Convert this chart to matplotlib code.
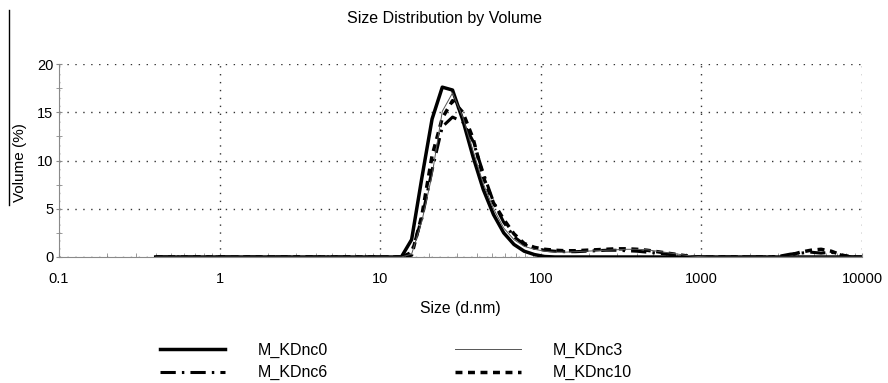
import matplotlib

matplotlib.use("Agg")
import matplotlib.pyplot as plt
from matplotlib.lines import Line2D

plt.rcParams["font.family"] = ["Liberation Sans", "DejaVu Sans"]

# ---------------------------------------------------------------- data
# Zetasizer size bins (d.nm)
sizes = [0.4, 0.4632, 0.5365, 0.6213, 0.7195, 0.8332, 0.9649, 1.117, 1.294,
         1.499, 1.736, 2.010, 2.328, 2.696, 3.122, 3.615, 4.187, 4.849,
         5.615, 6.503, 7.531, 8.721, 10.10, 11.70, 13.54, 15.69, 18.17,
         21.04, 24.36, 28.21, 32.67, 37.84, 43.82, 50.75, 58.77, 68.06,
         78.82, 91.28, 105.7, 122.4, 141.8, 164.2, 190.1, 220.2, 255.0,
         295.3, 342.0, 396.1, 458.7, 531.2, 615.1, 712.4, 825.0, 955.4,
         1106, 1281, 1484, 1718, 1990, 2305, 2669, 3091, 3580, 4145, 4801,
         5560, 6439, 7456, 8635, 10000]

# volume (%) per bin, bins 0.4 .. 11.70 are all zero
vol_nc0 = [0] * 24 + [0, 1.8, 8.2, 14.3, 17.6, 17.3, 14.2, 10.4, 7.0, 4.4,
                      2.5, 1.3, 0.6, 0.25, 0.05, 0, 0, 0, 0, 0, 0, 0, 0, 0,
                      0, 0, 0, 0, 0, 0, 0, 0, 0, 0, 0, 0, 0, 0, 0, 0, 0, 0,
                      0, 0, 0, 0]
vol_nc3 = [0] * 24 + [0, 0.3, 3.7, 8.5, 15.1, 17.0, 14.5, 11.0, 7.6, 5.0,
                      3.0, 1.8, 1.1, 0.8, 0.6, 0.5, 0.5, 0.55, 0.6, 0.65,
                      0.7, 0.75, 0.8, 0.8, 0.75, 0.6, 0.45, 0.3, 0.15, 0.05,
                      0, 0, 0, 0, 0, 0, 0, 0, 0, 0, 0, 0, 0, 0, 0, 0]
vol_nc6 = [0] * 24 + [0, 0.5, 4.0, 9.0, 13.5, 14.5, 14.0, 12.0, 8.7, 5.7,
                      3.6, 2.1, 1.3, 0.9, 0.7, 0.6, 0.55, 0.55, 0.6, 0.65,
                      0.7, 0.7, 0.65, 0.6, 0.5, 0.4, 0.3, 0.15, 0.05, 0,
                      0, 0, 0, 0, 0, 0, 0, 0.1, 0.3, 0.4, 0.5, 0.4, 0.5,
                      0.2, 0, 0]
vol_nc10 = [0] * 24 + [0, 0.2, 4.3, 10.5, 14.4, 16.2, 15.0, 12.3, 8.3, 5.6,
                       3.9, 2.4, 1.4, 1.0, 0.8, 0.7, 0.65, 0.65, 0.7, 0.75,
                       0.8, 0.85, 0.85, 0.8, 0.7, 0.55, 0.4, 0.25, 0.1, 0,
                       0, 0, 0, 0, 0, 0, 0, 0, 0.2, 0.5, 0.7, 0.8, 0.6,
                       0.2, 0, 0]

# ---------------------------------------------------------------- figure
fig = plt.figure(figsize=(8.88, 3.83), dpi=100)
ax = fig.add_axes([59 / 888, 1 - 257 / 383, 803 / 888, 193 / 383])

l0, = ax.plot(sizes, vol_nc0, color="black", lw=2.5, label="M_KDnc0",
              zorder=5)
l3, = ax.plot(sizes, vol_nc3, color="#555555", lw=0.7, label="M_KDnc3",
              zorder=6)
l6, = ax.plot(sizes, vol_nc6, color="black", lw=2.2, label="M_KDnc6",
              dashes=(5, 2, 0.8, 2), zorder=4)
l10, = ax.plot(sizes, vol_nc10, color="black", lw=2.5, label="M_KDnc10",
               dashes=(2.0, 1.6), zorder=3)

ax.set_xscale("log")
ax.set_xlim(0.1, 10000)
ax.set_ylim(0, 20)
ax.set_yticks([0, 5, 10, 15, 20])
ax.set_yticks([2.5, 7.5, 12.5, 17.5], minor=True)
ax.set_xticks([0.1, 1, 10, 100, 1000, 10000])
ax.set_xticklabels(["0.1", "1", "10", "100", "1000", "10000"])

for side in ("top", "right"):
    ax.spines[side].set_visible(False)
for side in ("left", "bottom"):
    ax.spines[side].set_color("#8a8a8a")
    ax.spines[side].set_linewidth(0.8)

ax.grid(True, which="major", color="#333333", lw=1.0,
        linestyle=(0, (1, 4.7)))
ax.tick_params(axis="y", which="both", direction="inout", length=5,
               color="#8a8a8a", labelsize=10.5, pad=1.5)
ax.tick_params(axis="x", which="both", direction="in", length=3,
               color="#8a8a8a", labelsize=10.5, pad=11)

ax.set_xlabel("Size (d.nm)", fontsize=11.3)
ax.xaxis.set_label_coords(0.5, -0.228)
ax.xaxis.label.set_va("top")
ax.set_ylabel("Volume (%)", fontsize=11)
ax.yaxis.set_label_coords(-0.040, 0.49)

fig.text(444 / 888, 1 - 18 / 383, "Size Distribution by Volume",
         fontsize=11.5, ha="center", va="center")

# stray frame line at the left edge
fig.add_artist(Line2D([9 / 888, 9 / 888], [1 - 10 / 383, 1 - 205 / 383],
                      color="black", lw=1.0))

fig.legend(handles=[l0, l6, l3, l10], ncol=2, frameon=False,
           loc="upper left", bbox_to_anchor=(160 / 888, 1 - 343 / 383),
           fontsize=11.5, handlelength=4.1, handletextpad=2.0,
           columnspacing=8.0, labelspacing=0.45, borderpad=0,
           borderaxespad=0)

fig.savefig("out.png", dpi=100, facecolor="white")
